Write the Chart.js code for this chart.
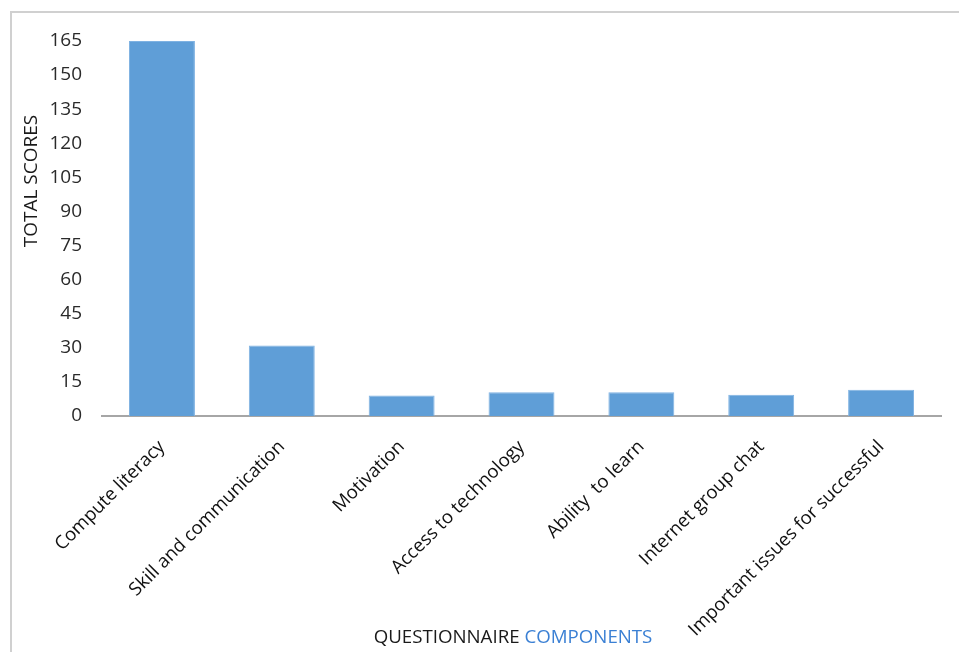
<!DOCTYPE html>
<html>
<head>
<meta charset="utf-8">
<script src="https://cdn.jsdelivr.net/npm/chart.js@4/dist/chart.umd.min.js"></script>
<style>
  html, body { margin: 0; padding: 0; background: #ffffff; }
  #wrap { position: relative; width: 959px; height: 652px; overflow: hidden; }
  #frame { position: absolute; left: 10px; top: 11px; right: -5px; bottom: -5px;
           border-left: 2px solid #d0d0d0; border-top: 2px solid #d0d0d0; pointer-events: none; }
  canvas { position: absolute; left: 0; top: 0; }
</style>
</head>
<body>
<div id="wrap">
  <canvas id="c" width="959" height="652"></canvas>
  <div id="frame"></div>
</div>
<script>
const categories = [
  "Compute literacy",
  "Skill and communication",
  "Motivation",
  "Access to technology",
  "Ability  to learn",
  "Internet group chat",
  "Important issues for successful"
];
const totalScores = [165, 31, 9, 10.4, 10.4, 9.4, 11.6];
const yTitle = "TOTAL SCORES";
const xTitleParts = ["QUESTIONNAIRE ", "COMPONENTS"];
const yMin = 0, yMax = 165, yStep = 15;

const FONT = "'Open Sans', 'Liberation Sans', sans-serif";

const titlesPlugin = {
  id: 'titles',
  afterDraw(chart) {
    const ctx = chart.ctx;
    ctx.save();
    // Y axis title
    ctx.font = "19px " + FONT;
    ctx.fillStyle = "#1a1a1a";
    ctx.textAlign = "center";
    ctx.textBaseline = "middle";
    ctx.translate(32, 181);
    ctx.rotate(-Math.PI / 2);
    ctx.fillText(yTitle, 0, 0);
    ctx.restore();

    // X axis title, two colours
    ctx.save();
    ctx.font = "18.7px " + FONT;
    ctx.textBaseline = "alphabetic";
    ctx.textAlign = "left";
    const w1 = ctx.measureText(xTitleParts[0]).width;
    const w2 = ctx.measureText(xTitleParts[1]).width;
    const cx = 513;
    let x = cx - (w1 + w2) / 2;
    const y = 643;
    ctx.fillStyle = "#1a1a1a";
    ctx.fillText(xTitleParts[0], x, y);
    ctx.fillStyle = "#3b80d4";
    ctx.fillText(xTitleParts[1], x + w1, y);
    ctx.restore();
  }
};

new Chart(document.getElementById('c'), {
  type: 'bar',
  data: {
    labels: categories,
    datasets: [{
      label: yTitle,
      data: totalScores,
      backgroundColor: '#5f9ed7',
      borderColor: '#7fb2e2',
      borderWidth: 1,
      categoryPercentage: 1.0,
      barPercentage: 0.55
    }]
  },
  options: {
    responsive: false,
    animation: false,
    devicePixelRatio: 1,
    layout: { padding: { left: 0, top: 41, right: 18, bottom: 0 } },
    plugins: {
      legend: { display: false },
      tooltip: { enabled: false },
      title: { display: false }
    },
    scales: {
      x: {
        grid: { display: false, drawTicks: false },
        border: { display: true, color: '#a6a6a6', width: 2 },
        ticks: {
          color: '#111111',
          font: { family: FONT, size: 18.5 },
          maxRotation: 45,
          minRotation: 45,
          autoSkip: false,
          padding: 20
        },
        afterFit(scale) { scale.height = 236; }
      },
      y: {
        min: yMin,
        max: yMax,
        grid: { display: false, drawTicks: false },
        border: { display: false },
        ticks: {
          stepSize: yStep,
          color: '#2a2a2a',
          font: { family: FONT, size: 19 },
          padding: 20
        },
        afterFit(scale) { scale.width = 102; }
      }
    }
  },
  plugins: [titlesPlugin]
});
</script>
</body>
</html>
